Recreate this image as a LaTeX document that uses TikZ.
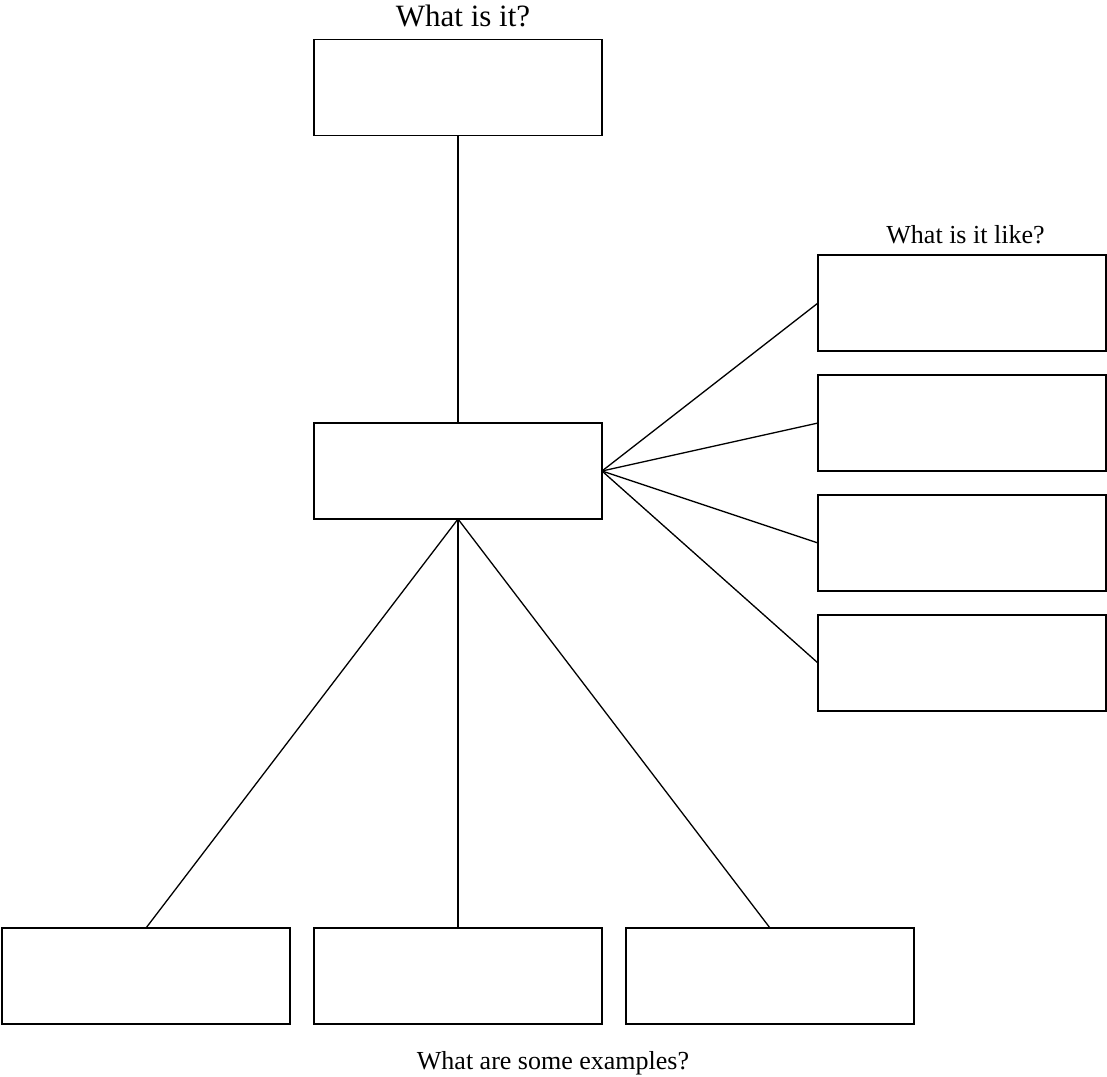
\documentclass[tikz,border=0pt]{standalone}
\usepackage{fontspec}
\setmainfont{Liberation Serif}
\begin{document}
\begin{tikzpicture}[x=1pt,y=-1pt,
  box/.style={draw=black, line width=1.3pt, minimum width=288pt, minimum height=96pt, inner sep=0pt, outer sep=0pt},
  conn/.style={draw=black, line width=1.3pt},
  lblbig/.style={anchor=base, inner sep=0pt, font=\fontsize{31}{36}\selectfont},
  lbl/.style={anchor=base, inner sep=0pt, font=\fontsize{26}{30}\selectfont}]
\useasboundingbox (0,0) rectangle (1107,1076);
\node[box] (top) at (458,87.5) {};
\node[box] (mid) at (458,471) {};
\node[box] (r1) at (962,303) {};
\node[box] (r2) at (962,423) {};
\node[box] (r3) at (962,543) {};
\node[box] (r4) at (962,663) {};
\node[box] (b1) at (146,976) {};
\node[box] (b2) at (458,976) {};
\node[box] (b3) at (770,976) {};
\node[lblbig] (ltop) at (463,26) {What is it?};
\node[lbl] (lright) at (965.5,243) {What is it like?};
\node[lbl] (lbottom) at (553,1069.5) {What are some examples?};
\draw[conn] (top.south) -- (mid.north);
\foreach \r in {r1,r2,r3,r4} \draw[conn] (mid.east) -- (\r.west);
\foreach \b in {b1,b2,b3} \draw[conn] (mid.south) -- (\b.north);
\end{tikzpicture}
\end{document}
